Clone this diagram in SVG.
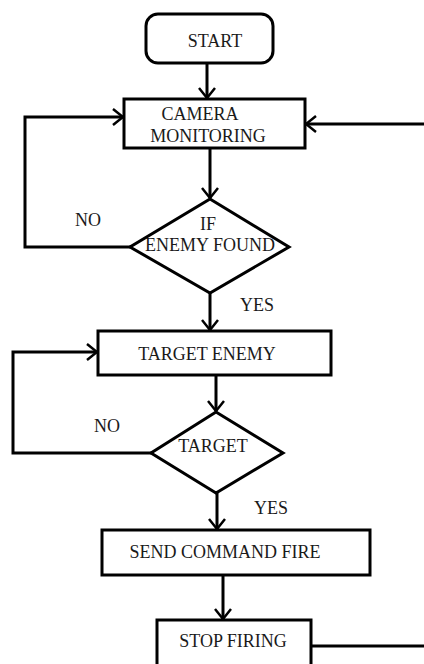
<svg xmlns="http://www.w3.org/2000/svg" width="424" height="664" viewBox="0 0 424 664">
<style>
.box{fill:#fff;stroke:#000;stroke-width:3}
.ln{fill:none;stroke:#000;stroke-width:3}
text{font-family:"Liberation Serif","Times New Roman",serif;font-size:18px;fill:#1a1a1a;text-anchor:middle}
</style>
<defs>
<marker id="arr" viewBox="0 0 12 18" refX="11" refY="9" markerWidth="12" markerHeight="18" markerUnits="userSpaceOnUse" orient="auto">
<path d="M1,1 L11,9 L1,17" fill="none" stroke="#000" stroke-width="2.5"/>
</marker>
</defs>
<rect width="424" height="664" fill="#fff"/>
<g id="connectors">
<path class="ln" d="M207,63 V98" marker-end="url(#arr)"/>
<path class="ln" d="M210,148 V198" marker-end="url(#arr)"/>
<path class="ln" d="M130,247 H25 V117 H123" marker-end="url(#arr)"/>
<path class="ln" d="M210,293 V330" marker-end="url(#arr)"/>
<path class="ln" d="M216,375 V411" marker-end="url(#arr)"/>
<path class="ln" d="M151,453 H13 V352 H97" marker-end="url(#arr)"/>
<path class="ln" d="M217,493 V529" marker-end="url(#arr)"/>
<path class="ln" d="M223,575 V619" marker-end="url(#arr)"/>
<path class="ln" d="M311,646 H440 V124 H306" marker-end="url(#arr)"/>
<text x="88" y="226">NO</text>
<text x="257" y="311">YES</text>
<text x="107" y="432">NO</text>
<text x="271" y="514">YES</text>
</g>
<g id="start">
<rect class="box" x="146" y="14" width="127" height="49" rx="12"/>
<text x="215" y="47">START</text>
</g>
<g id="camera">
<rect class="box" x="124" y="99" width="181" height="49"/>
<text x="200" y="120">CAMERA</text>
<text x="208" y="142">MONITORING</text>
</g>
<g id="enemyfound">
<polygon class="box" points="210,199 289,247 210,293 130,247"/>
<text x="208" y="230">IF</text>
<text x="210" y="251">ENEMY FOUND</text>
</g>
<g id="targetenemy">
<rect class="box" x="98" y="331" width="233" height="44"/>
<text x="207" y="360">TARGET ENEMY</text>
</g>
<g id="target">
<polygon class="box" points="216,412 283,453 216,493 151,453"/>
<text x="213" y="452">TARGET</text>
</g>
<g id="sendfire">
<rect class="box" x="102" y="530" width="268" height="45"/>
<text x="225" y="558">SEND COMMAND FIRE</text>
</g>
<g id="stopfiring">
<rect class="box" x="157" y="620" width="154" height="60"/>
<text x="233" y="647">STOP FIRING</text>
</g>
</svg>
